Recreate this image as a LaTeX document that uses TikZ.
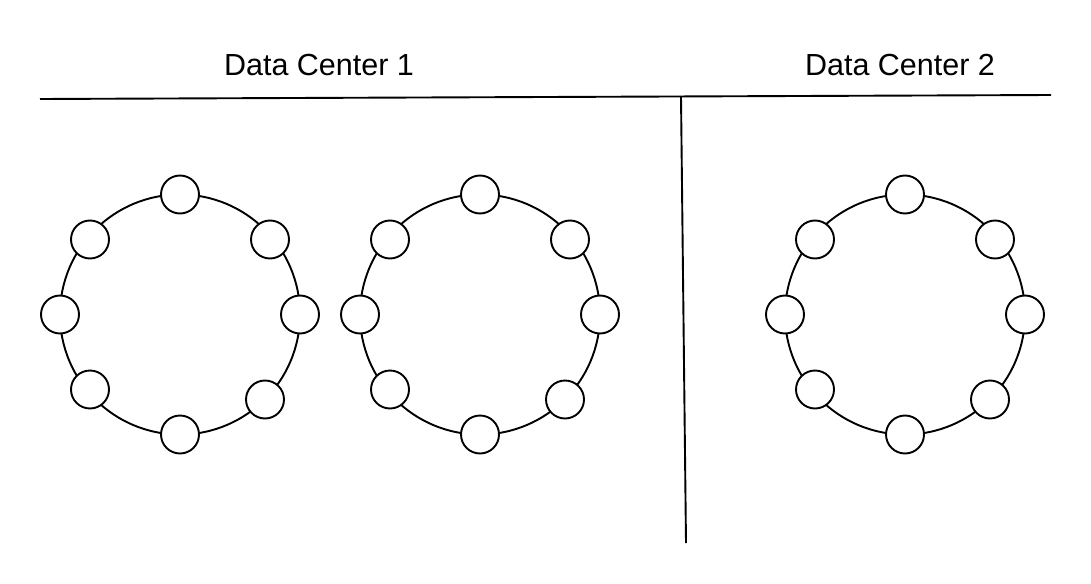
\documentclass[tikz,border=0pt]{standalone}
\usepackage{fontspec}
\setmainfont{Liberation Sans}
\newcommand{\dcring}[3]{%
  \node[ringc] (#1) at (#2,#3) {};
  \foreach \n/\dx/\dy in {t/0/-120, rt/90/-75, r/120/0, rb/85/85, b/0/120, lb/-90/75, l/-120/0, lt/-90/-75}
    \node[member] (#1-\n) at (#2+\dx,#3+\dy) {};
}
\begin{document}
\begin{tikzpicture}[x=1pt,y=-1pt,
  member/.style={circle,draw,line width=1.9pt,fill=white,minimum size=38pt,inner sep=0pt},
  ringc/.style={circle,draw,line width=1.9pt,minimum size=240pt,inner sep=0pt},
  divider/.style={line width=1.9pt},
  title/.style={font=\fontsize{30.5}{36}\selectfont,inner sep=0pt,anchor=base}]
\useasboundingbox (0,0) rectangle (1091,583);
\dcring{ringA}{180}{314.5}
\dcring{ringB}{480}{314.5}
\dcring{ringC}{905}{314.5}
\coordinate (hl) at (40,99);
\coordinate (hr) at (1051,95);
\coordinate (vt) at (681,97);
\coordinate (vb) at (686,543);
\draw[divider] (hl) -- (hr);
\draw[divider] (vt) -- (vb);
\node[title] (dc1) at (319,76) {Data Center 1};
\node[title] (dc2) at (900,76) {Data Center 2};
\end{tikzpicture}
\end{document}
